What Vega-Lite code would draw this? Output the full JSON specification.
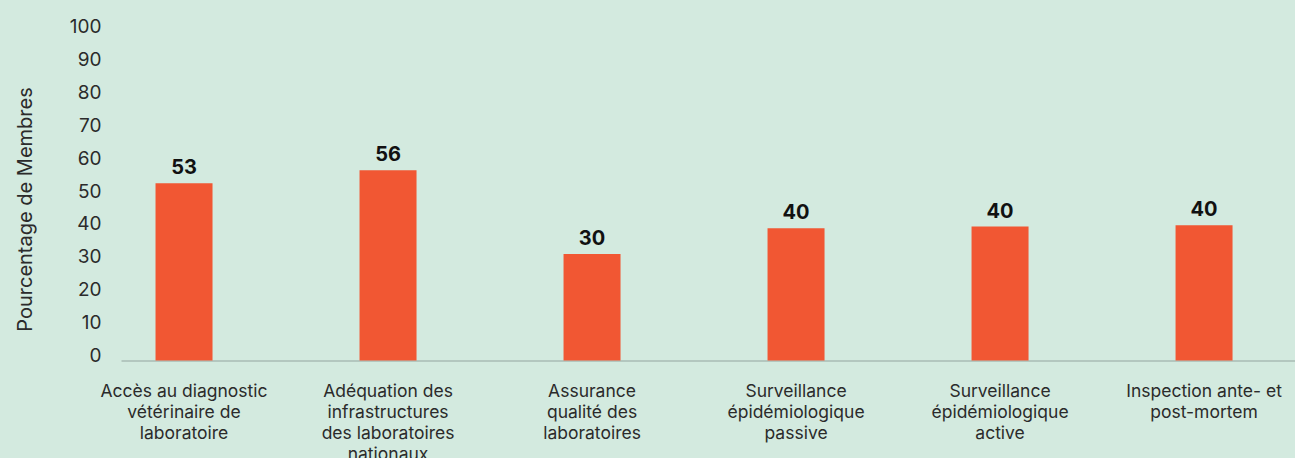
{
  "$schema": "https://vega.github.io/schema/vega-lite/v6.json",
  "width": 1174,
  "height": 329,
  "autosize": "none",
  "padding": {"left": 121, "top": 31.5, "right": 0, "bottom": 97.5},
  "background": "#d3eadf",
  "config": {"view": {"stroke": null}, "font": "Inter"},
  "data": {
    "values": [
      {"categorie": "Accès au diagnostic|vétérinaire de|laboratoire", "valeur": 53.9, "etiquette": "53"},
      {"categorie": "Adéquation des|infrastructures|des laboratoires|nationaux", "valeur": 57.8, "etiquette": "56"},
      {"categorie": "Assurance|qualité des|laboratoires", "valeur": 32.4, "etiquette": "30"},
      {"categorie": "Surveillance|épidémiologique|passive", "valeur": 40.2, "etiquette": "40"},
      {"categorie": "Surveillance|épidémiologique|active", "valeur": 40.7, "etiquette": "40"},
      {"categorie": "Inspection ante- et|post-mortem", "valeur": 41.1, "etiquette": "40"}
    ]
  },
  "encoding": {
    "x": {
      "field": "categorie",
      "type": "nominal",
      "sort": null,
      "scale": {"paddingInner": 0.7206, "paddingOuter": 0.2377, "align": 0.356},
      "axis": {
        "title": null,
        "labelExpr": "split(datum.label, '|')",
        "ticks": false,
        "domainColor": "#b3c7bf",
        "domainWidth": 2,
        "labelPadding": 22,
        "labelFontSize": 17.5,
        "labelColor": "#2b2b2b",
        "labelLineHeight": 21,
        "labelAngle": 0,
        "labelBaseline": "top",
        "labelOverlap": false,
        "labelBound": false,
        "labelLimit": 0
      }
    },
    "y": {
      "field": "valeur",
      "type": "quantitative",
      "scale": {"domain": [0, 100]},
      "axis": {
        "title": "Pourcentage de Membres",
        "values": [0, 10, 20, 30, 40, 50, 60, 70, 80, 90, 100],
        "grid": false,
        "domain": false,
        "ticks": false,
        "labelPadding": 20,
        "labelFontSize": 19,
        "labelColor": "#2b2b2b",
        "labelOffset": -5,
        "labelFlush": false,
        "titleFontSize": 20,
        "titleFontWeight": "normal",
        "titleColor": "#2b2b2b",
        "titleX": -96,
        "titleY": 177.5,
        "titleAngle": -90,
        "titleAlign": "center",
        "titleBaseline": "middle"
      }
    }
  },
  "layer": [
    {"mark": {"type": "bar", "color": "#f15733"}},
    {
      "mark": {"type": "text", "baseline": "alphabetic", "dy": -9, "fontSize": 20, "fontWeight": "bold", "color": "#111111"},
      "encoding": {"text": {"field": "etiquette"}}
    }
  ]
}
